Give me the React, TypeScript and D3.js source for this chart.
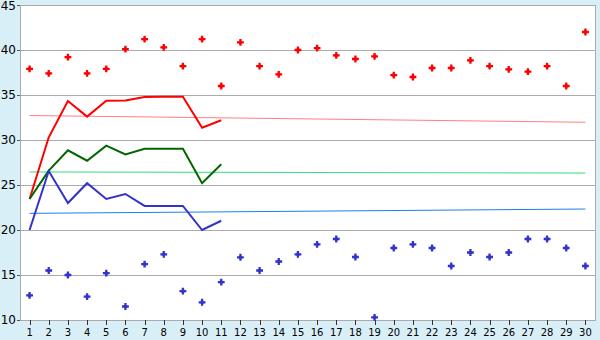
import React from "react";
import * as d3 from "d3";

const days = d3.range(1, 31).map(String);
const yTicks = [10, 15, 20, 25, 30, 35, 40, 45];

const redDots = [37.9, 37.4, 39.2, 37.4, 37.9, 40.1, 41.2, 40.3, 38.2, 41.2, 36.0, 40.85, 38.2, 37.3, 40.0, 40.2, 39.4, 39.0, 39.3, 37.2, 37.0, 38.0, 38.0, 38.85, 38.2, 37.85, 37.6, 38.2, 36.0, 42.0];
const blueDots = [12.74, 15.5, 15.0, 12.6, 15.2, 11.5, 16.2, 17.3, 13.2, 11.97, 14.2, 16.97, 15.5, 16.5, 17.3, 18.4, 19.0, 17.0, 10.3, 18.0, 18.4, 18.0, 16.0, 17.5, 17.0, 17.5, 19.0, 19.0, 18.0, 16.0];

const redLine = [23.45, 30.3, 34.33, 32.6, 34.37, 34.4, 34.78, 34.8, 34.8, 31.37, 32.2];
const greenLine = [23.45, 26.6, 28.85, 27.7, 29.37, 28.4, 29.03, 29.03, 29.03, 25.2, 27.3];
const blueLine = [20.0, 26.55, 23.0, 25.2, 23.45, 24.0, 22.67, 22.67, 22.67, 20.0, 21.03];

const trendDays = ["1", "30"];
const redTrend = [32.72, 31.97];
const greenTrend = [26.45, 26.33];
const blueTrend = [21.85, 22.33];

const W = 600, H = 340;
const L = 20, R = 595, T = 5, B = 320;

export default function App() {
  const x = d3.scaleBand<string>().domain(days).range([L, R]);
  const cx = (d: string) => (x(d) as number) + x.bandwidth() / 2;
  const y = d3.scaleLinear().domain([10, 45]).range([B, T]);

  const line = d3.line<number>().x((_, i) => cx(days[i])).y((v) => y(v));
  const tline = d3.line<number>().x((_, i) => cx(trendDays[i])).y((v) => y(v));
  const cross = d3.symbol().type(d3.symbolCross).size(26)() as string;
  const diamond = d3.symbol().type(d3.symbolSquare).size(9)() as string;

  const marker = (key: string, xv: number, yv: number, color: string) => (
    <g key={key} transform={`translate(${xv},${yv})`}>
      <path d={cross} fill={color} />
      <path d={diamond} fill={color} />
    </g>
  );

  return (
    <svg width={W} height={H} style={{ position: "absolute", left: 0, top: 0, display: "block" }}>
      <rect x={0} y={0} width={W} height={H} fill="#D9EFF7" />
      <rect x={L} y={T} width={R - L} height={B - T} fill="#FFFFFF" />
      {yTicks.map((t) => (
        <g key={t}>
          <line x1={L} x2={R} y1={Math.round(y(t)) + 0.5} y2={Math.round(y(t)) + 0.5} stroke="#ABABAB" strokeWidth={1} />
          <line x1={L - 3} x2={L} y1={Math.round(y(t)) + 0.5} y2={Math.round(y(t)) + 0.5} stroke="#555" strokeWidth={1} />
          <text x={16} y={Math.max(y(t), 5.5)} dy="0.36em" textAnchor="end" fontFamily="DejaVu Sans" fontSize={12} fill="#000">{t}</text>
        </g>
      ))}
      <line x1={L + 0.5} x2={L + 0.5} y1={T} y2={B} stroke="#ABABAB" />
      <line x1={R + 0.5} x2={R + 0.5} y1={T} y2={B + 1} stroke="#ABABAB" />
      {days.map((d) => (
        <g key={d}>
          <line x1={Math.round(cx(d)) + 0.5} x2={Math.round(cx(d)) + 0.5} y1={B} y2={B + 5} stroke="#333" />
          <text x={cx(d)} y={336} textAnchor="middle" fontFamily="DejaVu Sans" fontSize={10} fill="#000">{d}</text>
        </g>
      ))}
      <path d={tline(redTrend) as string} fill="none" stroke="#FF7F7F" strokeWidth={1} />
      <path d={tline(greenTrend) as string} fill="none" stroke="#33E07A" strokeWidth={1} />
      <path d={tline(blueTrend) as string} fill="none" stroke="#1A7FEA" strokeWidth={1} />
      <path d={line(redLine) as string} fill="none" stroke="#FF0000" strokeWidth={2} />
      <path d={line(greenLine) as string} fill="none" stroke="#006600" strokeWidth={2} />
      <path d={line(blueLine) as string} fill="none" stroke="#3333CC" strokeWidth={2} />
      {redDots.map((v, i) => marker("r" + i, cx(days[i]), y(v), "#FF0000"))}
      {blueDots.map((v, i) => marker("b" + i, cx(days[i]), y(v), "#3333CC"))}
    </svg>
  );
}
